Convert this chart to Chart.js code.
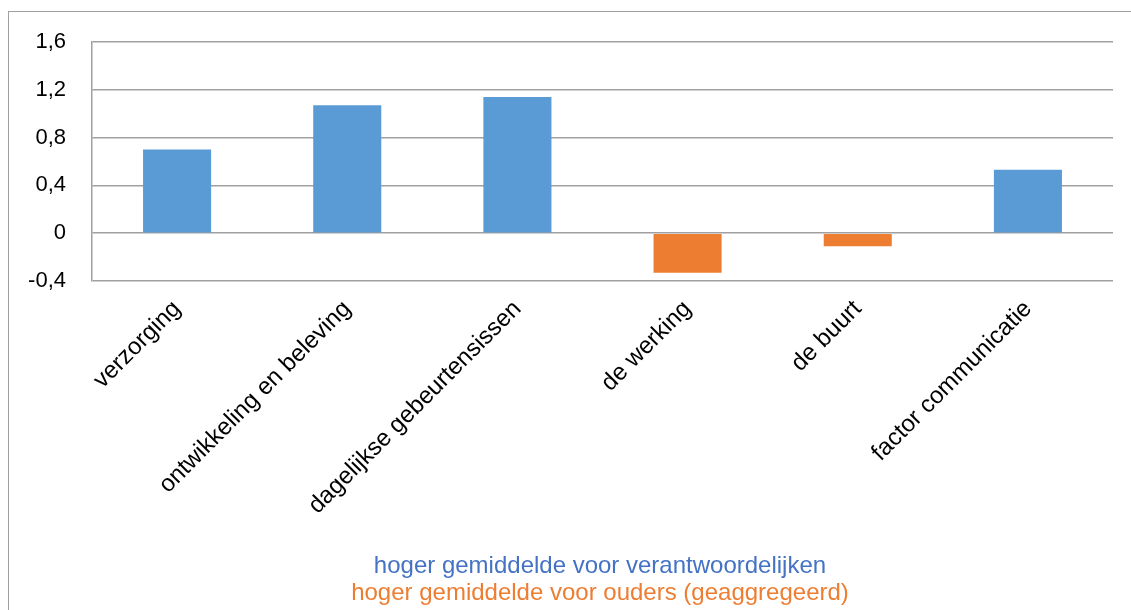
<!DOCTYPE html>
<html>
<head>
<meta charset="utf-8">
<script src="https://cdn.jsdelivr.net/npm/chart.js@4.4.1/dist/chart.umd.min.js"></script>
<style>
  html, body { margin: 0; padding: 0; background: #fff; overflow: hidden; }
  #wrap { position: relative; width: 1131px; height: 610px; overflow: hidden; }
  #kader { position: absolute; left: 8px; top: 11px; width: 1200px; height: 700px; border: 1.5px solid #a0a0a0; box-sizing: border-box; }
  canvas { position: absolute; left: 0; top: 0; }
  .noot { position: absolute; left: 0; width: 1200px; text-align: center; font-family: "Liberation Sans", Arial, sans-serif; font-size: 24px; white-space: nowrap; }
</style>
</head>
<body>
<div id="wrap">
  <div id="kader"></div>
  <canvas id="grafiek" width="1131" height="610"></canvas>
  <div class="noot" style="top:551px; color:#4472C4;">hoger gemiddelde voor verantwoordelijken</div>
  <div class="noot" style="top:578px; color:#ED7D31;">hoger gemiddelde voor ouders (geaggregeerd)</div>
</div>
<script>
// Gegevens
const categorieen = ["verzorging", "ontwikkeling en beleving", "dagelijkse gebeurtensissen", "de werking", "de buurt", "factor communicatie"];
const verschillen = [0.70, 1.07, 1.14, -0.33, -0.11, 0.53];
const yMin = -0.4;
const yMax = 1.6;
const yStap = 0.4;

const BLAUW = "#5B9BD5";
const ORANJE = "#ED7D31";

const ctx = document.getElementById("grafiek").getContext("2d");
new Chart(ctx, {
    type: "bar",
    data: {
        labels: categorieen,
        datasets: [{
            data: verschillen,
            backgroundColor: verschillen.map(v => v < 0 ? ORANJE : BLAUW),
            borderWidth: 0,
            categoryPercentage: 1,
            barPercentage: 0.4
        }]
    },
    options: {
        responsive: false,
        animation: false,
        layout: { padding: { top: 42, right: 18, left: 0, bottom: 0 } },
        plugins: { legend: { display: false }, tooltip: { enabled: false } },
        scales: {
            x: {
                grid: { display: false },
                border: { display: false },
                ticks: {
                    minRotation: 45,
                    maxRotation: 45,
                    autoSkip: false,
                    padding: 6,
                    color: "#000",
                    font: { family: "'Liberation Sans', Arial, sans-serif", size: 24 }
                },
                afterFit: s => { s.height = 329; }
            },
            y: {
                min: yMin,
                max: yMax,
                ticks: {
                    stepSize: yStap,
                    padding: 26,
                    color: "#000",
                    font: { family: "'Liberation Sans', Arial, sans-serif", size: 22 },
                    callback: v => (Math.round(v * 10) / 10).toString().replace(".", ",")
                },
                grid: { color: "#a0a0a0", lineWidth: 1.5, drawTicks: false },
                border: { display: true, color: "#a0a0a0", width: 1.5 },
                afterFit: s => { s.width = 92; }
            }
        }
    }
});
</script>
</body>
</html>
